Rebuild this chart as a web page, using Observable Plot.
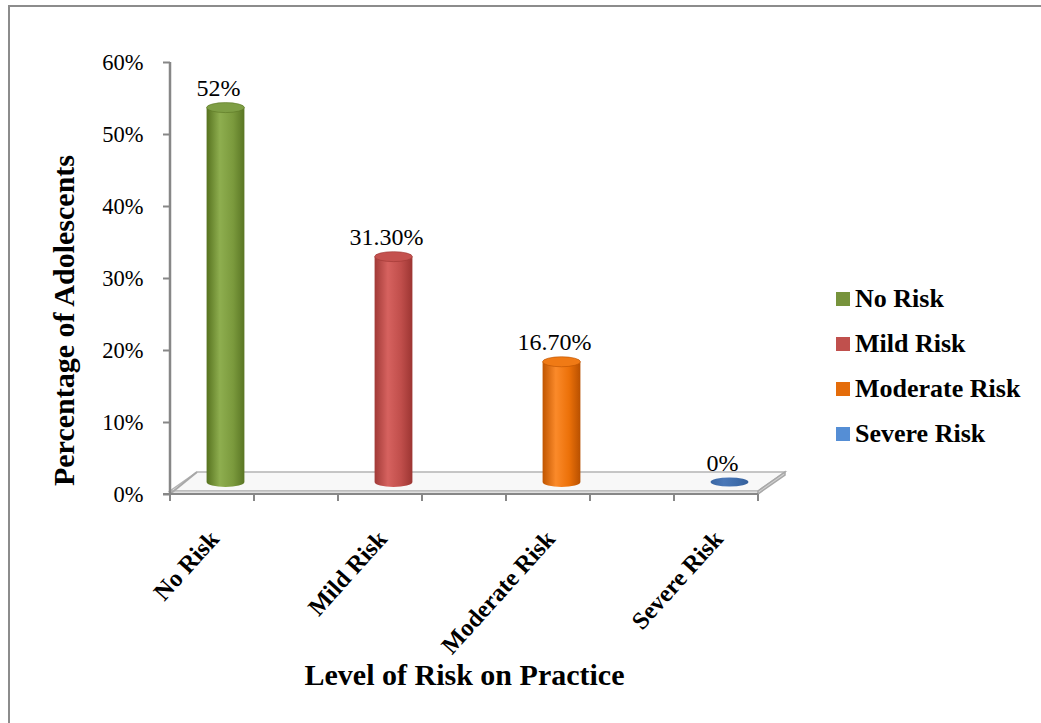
<!DOCTYPE html>
<html><head><meta charset="utf-8">
<script src="https://cdn.jsdelivr.net/npm/d3@7"></script>
<script src="https://cdn.jsdelivr.net/npm/@observablehq/plot@0.6"></script>
<style>
body{margin:0;background:#fff;}
#wrap{position:relative;width:1041px;height:723px;overflow:hidden;font-family:"Liberation Serif","Times New Roman",serif;}
#chart{position:absolute;left:0;top:0;}
#border{position:absolute;left:8px;top:5px;width:1100px;height:800px;border:2px solid #8c8c8c;pointer-events:none;}
#legend{position:absolute;left:836px;top:276px;}
.item{display:flex;align-items:center;height:45px;font-weight:bold;font-size:26px;color:#000;}
.sw{width:14px;height:14px;margin-right:5px;}
</style></head>
<body><div id="wrap"><div id="chart"></div><div id="legend"></div><div id="border"></div></div>
<script>
// ---- data ----
const categories = ["No Risk", "Mild Risk", "Moderate Risk", "Severe Risk"];
const values = [0.52, 0.313, 0.167, 0];
const valueLabels = ["52%", "31.30%", "16.70%", "0%"];
const yTicks = [0, 0.1, 0.2, 0.3, 0.4, 0.5, 0.6];
const legendColors = ["#77933C", "#C0504D", "#E46C0A", "#558ED5"];
const xTitle = "Level of Risk on Practice";
const yTitle = "Percentage of Adolescents";

// cylinder shading per category: [edge dark, highlight, mid, edge dark, top]
const shades = [
  ["#56721f", "#8eae4f", "#7b9a3d", "#5a7624", "#7e9e44"],
  ["#a13a37", "#d6625f", "#c04e4b", "#9c3532", "#c4514e"],
  ["#c05500", "#fb8a2a", "#ec7109", "#b85000", "#f07a15"],
  ["#3a66a3", "#4a78b8", "#3f6dab", "#355f9a", "#4270ae"]
];

const rows = categories.map((c, i) => ({cat: c, value: values[i], label: valueLabels[i], i}));

const axisGray = "#878787";
const depthX = 27, depthY = -19; // oblique depth of the 3D floor

function scene(index, scales) {
  const x = scales.x, y = scales.y;
  const bw = x.bandwidth();
  const L = x(categories[0]);
  const R = x(categories[categories.length - 1]) + bw;
  const y0 = y(0);
  const g = d3.create("svg:g");
  const defs = g.append("defs");
  shades.forEach((s, i) => {
    const gr = defs.append("linearGradient").attr("id", "cyl" + i).attr("x1", 0).attr("x2", 1).attr("y1", 0).attr("y2", 0);
    [[0, s[0]], [0.35, s[1]], [0.7, s[2]], [1, s[3]]].forEach(([o, c]) => gr.append("stop").attr("offset", o).attr("stop-color", c));
  });
  const th = 3;
  // floor top surface
  g.append("path")
    .attr("d", `M${L},${y0 - th}L${R},${y0 - th}L${R + depthX},${y0 - th + depthY}L${L + depthX},${y0 - th + depthY}Z`)
    .attr("fill", "#f8f8f8").attr("stroke", "#b4b4b4").attr("stroke-width", 1.5);
  // front face
  g.append("path")
    .attr("d", `M${L},${y0 - th}L${R},${y0 - th}L${R},${y0}L${L},${y0}Z`)
    .attr("fill", "#e0e0e0").attr("stroke", "#b4b4b4").attr("stroke-width", 1);
  // right face
  g.append("path")
    .attr("d", `M${R},${y0 - th}L${R + depthX},${y0 - th + depthY}L${R + depthX},${y0 + depthY}L${R},${y0}Z`)
    .attr("fill", "#d0d0d0").attr("stroke", "#a8a8a8").attr("stroke-width", 1.5);
  // left edge diagonal
  g.append("line").attr("x1", L).attr("y1", y0).attr("x2", L + depthX).attr("y2", y0 - th + depthY)
    .attr("stroke", "#a8a8a8").attr("stroke-width", 2);
  // y axis line
  g.append("line").attr("x1", L).attr("x2", L).attr("y1", y(yTicks[yTicks.length - 1])).attr("y2", y0)
    .attr("stroke", axisGray).attr("stroke-width", 2.5);
  // x axis line + band-edge ticks
  g.append("line").attr("x1", L - 7).attr("x2", R).attr("y1", y0).attr("y2", y0)
    .attr("stroke", axisGray).attr("stroke-width", 2);
  categories.forEach(c => {
    [x(c), x(c) + bw].forEach(px => {
      g.append("line").attr("x1", px).attr("x2", px).attr("y1", y0).attr("y2", y0 + 7)
        .attr("stroke", axisGray).attr("stroke-width", 2);
    });
  });
  // cylinders at mid depth
  const ox = depthX / 2, oy = (depthY - th) / 2 - 1;
  const rx = bw * 0.225, ry = 5;
  rows.forEach(d => {
    const cx = x(d.cat) + bw / 2 + ox;
    const yb = y0 + oy;
    const yt = y(d.value) + oy;
    if (d.value <= 0) {
      g.append("ellipse").attr("cx", cx).attr("cy", yb).attr("rx", rx).attr("ry", 4.5)
        .attr("fill", `url(#cyl${d.i})`);
      return;
    }
    g.append("path")
      .attr("d", `M${cx - rx},${yt}L${cx - rx},${yb}A${rx},${ry} 0 0 0 ${cx + rx},${yb}L${cx + rx},${yt}Z`)
      .attr("fill", `url(#cyl${d.i})`);
    g.append("ellipse").attr("cx", cx).attr("cy", yt).attr("rx", rx).attr("ry", ry)
      .attr("fill", shades[d.i][4]).attr("stroke", shades[d.i][3]).attr("stroke-width", 0.6);
  });
  return g.node();
}

const chart = Plot.plot({
  width: 1041,
  height: 723,
  marginTop: 62,
  marginBottom: 229,
  marginLeft: 170,
  marginRight: 283,
  style: {fontFamily: "'Liberation Serif','Times New Roman',serif", background: "transparent", color: "#000"},
  x: {type: "band", domain: categories, paddingInner: 0.5, paddingOuter: 0, align: 0, axis: null},
  y: {domain: [0, 0.6], axis: null},
  marks: [
    scene,
    Plot.axisY({ticks: yTicks, tickFormat: d3.format(".0%"), tickSize: 7, tickPadding: 20, fontSize: 22.5,
      stroke: axisGray, strokeWidth: 2, label: null}),
    Plot.axisX({tickSize: 0, tickRotate: -48, tickPadding: 40, fontSize: 24.5, fontWeight: "bold", dx: 2, label: null}),
    Plot.text(rows, {x: "cat", y: "value", text: "label", dx: 6, dy: -24, lineAnchor: "bottom", fontSize: 24}),
    Plot.text([xTitle], {frameAnchor: "bottom", dy: 190, lineAnchor: "bottom", fontSize: 30, fontWeight: "bold"}),
    Plot.text([yTitle], {frameAnchor: "left", dx: -106, dy: 42, rotate: -90, textAnchor: "middle", fontSize: 30, fontWeight: "bold"})
  ]
});
document.getElementById("chart").appendChild(chart);

const legend = d3.select("#legend");
categories.forEach((c, i) => {
  const it = legend.append("div").attr("class", "item");
  it.append("div").attr("class", "sw").style("background", legendColors[i]);
  it.append("span").text(c);
});
</script>
</body></html>
